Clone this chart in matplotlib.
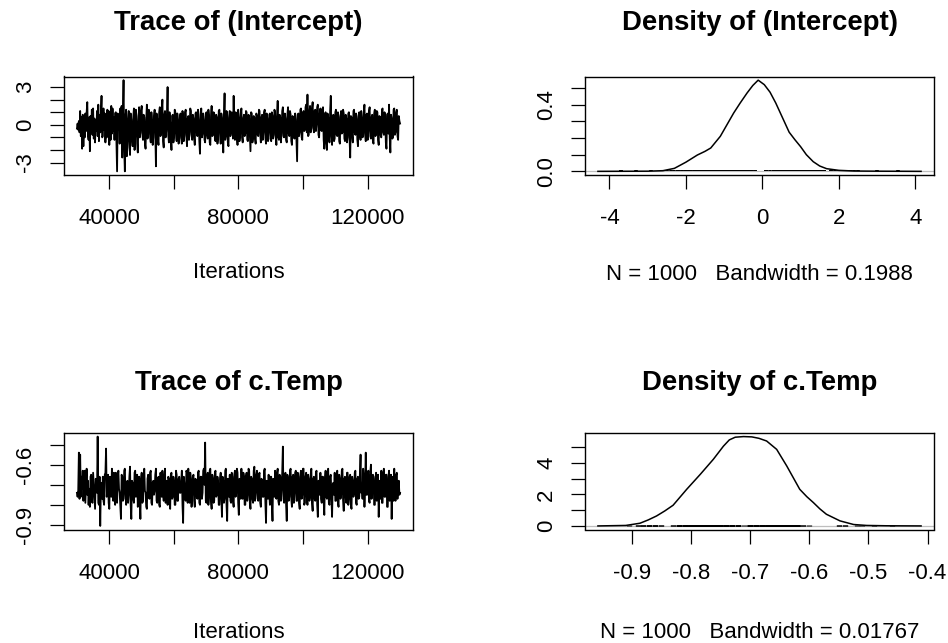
import numpy as np
import matplotlib
matplotlib.use('Agg')
import matplotlib.pyplot as plt

plt.rcParams['font.family'] = ['Liberation Sans', 'DejaVu Sans']
plt.rcParams['axes.unicode_minus'] = False

# trace samples (thinned)
intercept = [
    -0.3, 0.1, -0.4, 0.3, -0.6, 1.1, -0.9, 0.6, -1.9, 0.8, -1.7, 0.4, -1.0, 0.9, -0.5, 1.0, 1.8, -0.8, -1.2, 0.6,
    -2.1, 0.7, -0.3, 1.2, -0.8, 1.3, -1.1, 0.5, -1.4, 0.4, -0.5, 1.1, -0.9, 1.6, -1.3, 0.8, -0.6, 1.0, 2.3, -1.0,
    -0.9, 1.3, -0.4, 0.9, -1.4, 0.7, -1.0, 1.2, -0.2, 1.1, -1.6, 0.6, -1.2, 1.5, -0.7, 1.3, -0.5, 0.6, -1.2, 0.9,
    1.0, -1.3, -3.7, 0.9, -0.4, 0.8, -1.5, 1.3, -0.8, 1.5, -2.6, 1.0, 3.55, -1.9, -3.7, 0.7, 1.2, -2.5, -1.8, 0.5,
    1.1, -1.3, -2.4, 0.9, 0.4, -1.1, -1.7, 0.6, 1.3, -2.0, -0.9, 1.2, 0.7, -1.5, -2.2, 0.3, 1.4, -1.0, -0.6, 1.1,
    1.5, -0.7, -1.2, 0.8, 0.6, -1.5, -1.9, 0.4, 1.6, -1.1, -0.8, 1.2, 0.9, -0.9, -1.4, 1.0, 0.3, -1.6, -1.0, 0.7,
    1.2, -0.6, -3.3, 0.9, 0.5, -1.2, -1.6, 1.0, 1.4, -0.9, -0.7, 1.1, 2.0, -1.3, -1.8, 0.8, 1.1, -1.0, -0.5, 0.9,
    3.0, -0.8, -1.4, 1.0, 0.2, -1.1, -2.0, 0.7, 0.8, -1.4, -0.9, 1.2, 1.0, -0.7, -1.3, 0.9, 0.4, -1.5, -1.1, 0.6,
    0.9, -1.0, -1.5, 1.1, 0.6, -1.3, -0.8, 1.0, 1.2, -0.9, -1.7, 0.5, 0.7, -1.2, -0.6, 1.3, 1.1, -0.8, -1.2, 0.8,
    0.5, -1.1, -1.6, 0.9, 1.0, -0.6, -0.9, 1.2, 0.8, -1.3, -2.3, 0.4, 1.3, -1.0, -0.7, 0.9, 0.4, -1.2, -1.4, 0.7,
    1.0, -0.8, -1.1, 1.2, 0.7, -1.4, -1.6, 0.6, 1.5, -0.9, -0.8, 1.0, 0.9, -1.1, -1.3, 0.8, 0.6, -1.5, -1.0, 1.1,
    1.2, -0.7, -1.5, 0.9, 0.5, -1.0, -2.2, 0.8, 2.5, -1.2, -0.9, 1.1, 0.8, -1.4, -1.7, 0.6, 1.1, -0.9, -0.6, 1.0,
    0.7, -1.1, 2.3, -0.6, -1.2, 1.0, 0.9, -0.8, -1.6, 1.2, 0.6, -1.3, -0.8, 0.9, 1.3, -1.0, -1.4, 0.5, 0.8, -0.9,
    -0.7, 1.1, 1.0, -1.2, -1.3, 0.8, 0.5, -0.9, -2.1, 1.0, 0.9, -1.4, -1.0, 0.7, 0.6, -1.1, -1.5, 0.9, 0.7, -0.8,
    -0.9, 1.2, 1.1, -0.7, -1.4, 0.6, 0.8, -1.2, -0.6, 1.0, 1.2, -1.0, -1.5, 0.9, 0.5, -1.3, -1.1, 0.8, 0.9, -0.6,
    -1.3, 1.0, 0.7, -1.1, -0.8, 1.2, 1.0, -0.9, -1.6, 0.7, 1.9, -1.0, -1.2, 0.8, 0.6, -1.4, -0.7, 1.1, 1.4, -0.9,
    -1.0, 0.9, 0.5, -1.2, -1.4, 0.8, 1.4, -0.7, -0.9, 1.1, 0.8, -1.3, -1.6, 0.7, 0.6, -1.0, -1.1, 0.9, 0.4, -1.2,
    -2.9, 0.8, 0.9, -0.9, -0.6, 1.2, 1.3, -1.0, -1.2, 0.9, 1.1, -0.5, -0.4, 1.4, 1.6, -0.6, 2.4, -0.9, -0.8, 1.0,
    1.5, -0.6, -0.3, 1.3, 1.8, -0.2, -0.6, 1.1, 1.2, -0.5, 0.1, 1.4, 1.6, -0.8, -1.0, 0.9, 1.3, -0.4, -0.5, 1.2,
    1.4, -1.2, -1.9, 0.8, 1.0, -1.5, -2.0, 0.9, 0.6, -1.0, -1.4, 1.1, 2.3, -0.9, -1.6, 0.7, 0.8, -1.3, -1.1, 1.0,
    1.2, -0.8, -0.9, 1.0, 0.7, -1.3, -1.5, 0.6, 1.1, -0.7, -0.6, 1.2, 0.9, -1.1, -1.3, 0.8, 0.5, -1.4, -1.0, 0.9,
    1.0, -1.1, -2.6, 0.7, 0.6, -0.9, -1.4, 1.1, 1.2, -0.6, -0.8, 0.9, 0.7, -1.2, -1.7, 0.5, 1.0, -0.8, -1.2, 1.1,
    0.6, -1.0, -0.9, 1.0, 1.6, -0.7, -1.3, 0.8, 0.9, -1.2, -0.5, 1.1, 1.4, -0.9, -1.1, 0.6, 0.8, -1.3, -1.5, 0.9,
    1.2, -0.9, -0.7, 1.1, 1.0, -1.2, -1.6, 0.7, 0.6, -0.8, -1.0, 1.2, 1.3, -0.6, -0.8, 1.0, 0.7, -1.4, -1.9, 0.8,
    0.9, -0.7, 1.6, -1.0, -2.2, 0.8, 0.5, -1.1, -1.0, 1.2, 1.3, -0.8, -0.6, 1.0, 1.2, -0.9, -1.2, 0.7, 0.3, 0.1,
]

c_temp = [
    -0.74, -0.76, -0.73, -0.54, -0.77, -0.55, -0.76, -0.66, -0.72, -0.63, -0.78, -0.66, -0.63, -0.79, -0.70, -0.62, -0.75, -0.68, -0.80, -0.72,
    -0.81, -0.66, -0.65, -0.78, -0.79, -0.64, -0.70, -0.76, -0.82, -0.67, -0.68, -0.74, -0.46, -0.79, -0.80, -0.66, -0.905, -0.71, -0.69, -0.77,
    -0.66, -0.78, -0.80, -0.65, -0.64, -0.52, -0.76, -0.70, -0.65, -0.79, -0.82, -0.66, -0.70, -0.76, -0.62, -0.73, -0.78, -0.64, -0.67, -0.80,
    -0.64, -0.77, -0.79, -0.66, -0.63, -0.72, -0.74, -0.80, -0.87, -0.65, -0.66, -0.78, -0.77, -0.63, -0.62, -0.75, -0.80, -0.69, -0.68, -0.79,
    -0.75, -0.66, -0.61, -0.80, -0.87, -0.68, -0.69, -0.77, -0.79, -0.64, -0.63, -0.76, -0.73, -0.65, -0.81, -0.70, -0.66, -0.78, -0.87, -0.67,
    -0.64, -0.79, -0.78, -0.66, -0.62, -0.73, -0.74, -0.81, -0.82, -0.67, -0.65, -0.76, -0.77, -0.64, -0.63, -0.79, -0.80, -0.69, -0.68, -0.75,
    -0.73, -0.65, -0.62, -0.78, -0.79, -0.67, -0.66, -0.80, -0.81, -0.64, -0.70, -0.76, -0.63, -0.74, -0.78, -0.66, -0.62, -0.79, -0.75, -0.68,
    -0.80, -0.66, -0.67, -0.79, -0.82, -0.65, -0.64, -0.77, -0.76, -0.66, -0.69, -0.80, -0.80, -0.63, -0.65, -0.78, -0.78, -0.67, -0.66, -0.74,
    -0.74, -0.68, -0.63, -0.80, -0.89, -0.66, -0.70, -0.77, -0.78, -0.63, -0.64, -0.79, -0.62, -0.75, -0.79, -0.64, -0.67, -0.81, -0.75, -0.66,
    -0.65, -0.78, -0.81, -0.67, -0.68, -0.76, -0.77, -0.64, -0.63, -0.79, -0.80, -0.66, -0.66, -0.77, -0.74, -0.63, -0.62, -0.70, -0.49, -0.78,
    -0.79, -0.66, -0.64, -0.80, -0.76, -0.63, -0.62, -0.78, -0.82, -0.65, -0.67, -0.79, -0.78, -0.64, -0.63, -0.76, -0.75, -0.66, -0.69, -0.80,
    -0.80, -0.67, -0.64, -0.77, -0.86, -0.66, -0.68, -0.79, -0.77, -0.63, -0.62, -0.80, -0.88, -0.67, -0.70, -0.76, -0.65, -0.78, -0.79, -0.64,
    -0.66, -0.78, -0.81, -0.65, -0.63, -0.76, -0.74, -0.62, -0.64, -0.79, -0.85, -0.67, -0.68, -0.77, -0.62, -0.73, -0.77, -0.64, -0.66, -0.80,
    -0.80, -0.66, -0.64, -0.78, -0.75, -0.62, -0.63, -0.79, -0.82, -0.66, -0.67, -0.77, -0.79, -0.63, -0.61, -0.78, -0.74, -0.65, -0.63, -0.77,
    -0.78, -0.65, -0.64, -0.79, -0.81, -0.67, -0.68, -0.76, -0.76, -0.63, -0.62, -0.79, -0.89, -0.68, -0.70, -0.77, -0.65, -0.74, -0.80, -0.66,
    -0.66, -0.79, -0.88, -0.67, -0.69, -0.76, -0.63, -0.75, -0.77, -0.64, -0.62, -0.78, -0.80, -0.65, -0.66, -0.78, -0.73, -0.64, -0.51, -0.77,
    -0.79, -0.66, -0.64, -0.80, -0.88, -0.65, -0.67, -0.78, -0.76, -0.63, -0.62, -0.77, -0.81, -0.66, -0.65, -0.79, -0.74, -0.64, -0.63, -0.78,
    -0.78, -0.64, -0.66, -0.79, -0.82, -0.65, -0.63, -0.77, -0.75, -0.62, -0.62, -0.80, -0.79, -0.66, -0.64, -0.76, -0.80, -0.65, -0.67, -0.78,
    -0.76, -0.65, -0.62, -0.79, -0.83, -0.67, -0.66, -0.77, -0.78, -0.64, -0.63, -0.80, -0.86, -0.68, -0.68, -0.75, -0.64, -0.77, -0.79, -0.66,
    -0.66, -0.78, -0.85, -0.67, -0.63, -0.76, -0.77, -0.64, -0.62, -0.79, -0.80, -0.66, -0.65, -0.77, -0.86, -0.70, -0.69, -0.75, -0.64, -0.78,
    -0.78, -0.66, -0.63, -0.79, -0.81, -0.65, -0.67, -0.77, -0.75, -0.63, -0.62, -0.78, -0.83, -0.67, -0.66, -0.76, -0.79, -0.64, -0.64, -0.80,
    -0.77, -0.66, -0.65, -0.80, -0.82, -0.66, -0.68, -0.76, -0.74, -0.64, -0.63, -0.79, -0.80, -0.67, -0.66, -0.77, -0.76, -0.64, -0.55, -0.74,
    -0.70, -0.77, -0.62, -0.66, -0.81, -0.70, -0.54, -0.75, -0.75, -0.66, -0.63, -0.78, -0.79, -0.64, -0.60, -0.77, -0.74, -0.65, -0.66, -0.80,
    -0.80, -0.67, -0.64, -0.78, -0.77, -0.65, -0.86, -0.72, -0.68, -0.77, -0.63, -0.79, -0.79, -0.64, -0.62, -0.76, -0.76, -0.65, -0.65, -0.81,
    -0.81, -0.66, -0.63, -0.78, -0.74, -0.65, -0.87, -0.70, -0.66, -0.78, -0.62, -0.76, -0.78, -0.65, -0.64, -0.77, -0.72, -0.68, -0.75, -0.74,
]

first_iter = 30100
last_iter = 130000

# density curves
dens_int_x = [-4.3, -3.0, -2.6, -2.3, -2.0, -1.7, -1.5, -1.35, -1.1, -0.9, -0.75,
              -0.58, -0.4, -0.25, -0.11, 0.05, 0.2, 0.35, 0.47, 0.7, 0.85, 1.0,
              1.15, 1.33, 1.5, 1.68, 2.0, 2.4, 3.0, 4.15]
dens_int_y = [0.0, 0.001, 0.004, 0.018, 0.055, 0.098, 0.12, 0.14, 0.21, 0.29, 0.35,
              0.41, 0.47, 0.515, 0.547, 0.52, 0.475, 0.41, 0.35, 0.235, 0.19, 0.148,
              0.10, 0.058, 0.032, 0.016, 0.006, 0.002, 0.001, 0.0]

dens_ct_x = [-0.957, -0.91, -0.886, -0.872, -0.858, -0.844, -0.830, -0.807, -0.784,
             -0.762, -0.745, -0.735, -0.725, -0.711, -0.697, -0.685, -0.672, -0.655,
             -0.638, -0.616, -0.604, -0.593, -0.582, -0.571, -0.548, -0.525, -0.503,
             -0.47, -0.411]
dens_ct_y = [0.0, 0.03, 0.17, 0.38, 0.63, 0.95, 1.31, 2.32, 3.27, 4.22, 5.05, 5.45,
             5.62, 5.66, 5.64, 5.55, 5.38, 4.85, 3.80, 2.32, 1.85, 1.48, 1.08, 0.74,
             0.32, 0.09, 0.03, 0.01, 0.0]

n_samples = 1000
bw_int = 0.1988
bw_ct = 0.01767

W, H = 948, 643


def box(l, t, r, b):
    return [l / W, 1 - b / H, (r - l) / W, (b - t) / H]


def style(ax, xt, xl, yt, yl):
    ax.set_xticks(xt)
    ax.set_xticklabels(xl, fontsize=16)
    ax.set_yticks(yt)
    ax.set_yticklabels(yl, fontsize=16, rotation=90, va='center')
    ax.tick_params(direction='out', length=10, width=0.9, color='black')
    ax.tick_params(axis='x', pad=14)
    ax.tick_params(axis='y', pad=10)
    for s in ax.spines.values():
        s.set_linewidth(1.0)
        s.set_color('black')
    ax.margins(x=0.04, y=0.04)


fig = plt.figure(figsize=(W / 100, H / 100), dpi=100)

# trace plots
for vals, title, top, bottom, yt, yl, ty, ly in [
        (intercept, 'Trace of (Intercept)', 76.5, 175, [-3, -2, -1, 0, 1, 2, 3],
         ['-3', '', '', '0', '', '', '3'], 23, 273),
        (c_temp, 'Trace of c.Temp', 433, 529.5, [-0.9, -0.8, -0.7, -0.6, -0.5],
         ['-0.9', '', '', '-0.6', ''], 383, 633)]:
    ax = fig.add_axes(box(64, top, 413, bottom))
    iters = np.linspace(first_iter, last_iter, len(vals))
    ax.plot(iters, vals, color='black', lw=1.3)
    style(ax, [40000, 60000, 80000, 100000, 120000],
          ['40000', '', '80000', '', '120000'], yt, yl)
    fig.text(238.5 / W, 1 - ty / H, title, ha='center', va='center',
             fontsize=19.8, fontweight='bold')
    fig.text(238.5 / W, 1 - ly / H, 'Iterations', ha='center', va='center', fontsize=16)

# density plots
for vals, dx, dy, bw, rug_w, title, top, bottom, xt, xl, yt, yl, ty, ly in [
        (intercept, dens_int_x, dens_int_y, bw_int, 2.6, 'Density of (Intercept)', 76.5, 175,
         [-4, -2, 0, 2, 4], ['-4', '-2', '0', '2', '4'],
         [0, 0.1, 0.2, 0.3, 0.4, 0.5], ['0.0', '', '', '', '0.4', ''], 23, 274),
        (c_temp, dens_ct_x, dens_ct_y, bw_ct, 3.8, 'Density of c.Temp', 433, 529.5,
         [-0.9, -0.8, -0.7, -0.6, -0.5, -0.4], ['-0.9', '-0.8', '-0.7', '-0.6', '-0.5', '-0.4'],
         [0, 1, 2, 3, 4, 5], ['0', '', '2', '', '4', ''], 383, 632)]:
    ax = fig.add_axes(box(585, top, 934, bottom))
    ax.axhline(0, color='#bebebe', lw=0.9, zorder=1)
    ax.vlines(vals, 0, max(dy) / 100, color='black', lw=rug_w, capstyle='butt', zorder=2)
    ax.plot(dx, dy, color='black', lw=1.1, zorder=3)
    style(ax, xt, xl, yt, yl)
    fig.text(759.5 / W, 1 - ty / H, title, ha='center', va='center',
             fontsize=19.8, fontweight='bold')
    fig.text(759.5 / W, 1 - ly / H, 'N = %d   Bandwidth = %s' % (n_samples, bw),
             ha='center', va='center', fontsize=16)

fig.savefig('out.png', dpi=100, facecolor='white')
